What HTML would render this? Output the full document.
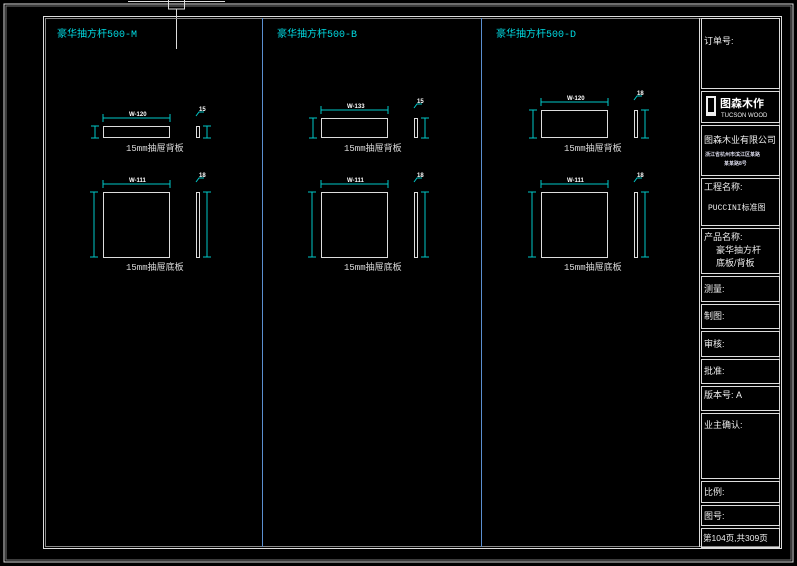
<!DOCTYPE html>
<html><head><meta charset="utf-8"><style>
html,body{margin:0;padding:0;background:#000;}
svg{display:block}
text{font-family:"Liberation Sans","Noto Sans CJK SC",sans-serif;}
text.mono{font-family:"Liberation Mono","Noto Sans CJK SC",monospace;}
</style></head><body>
<svg width="797" height="566" viewBox="0 0 797 566" xmlns="http://www.w3.org/2000/svg">
<rect width="797" height="566" fill="#000"/>
<rect x="4" y="4" width="789" height="558" fill="none" stroke="#ddd" stroke-width="1"/>
<rect x="6" y="6" width="785" height="554" fill="none" stroke="#777" stroke-width="1"/>
<line x1="128" y1="1.5" x2="225" y2="1.5" stroke="#ddd"/>
<rect x="168.5" y="-1" width="16" height="10" fill="none" stroke="#ddd"/>
<line x1="176.5" y1="9" x2="176.5" y2="49" stroke="#ddd"/>
<rect x="43.5" y="16.5" width="738" height="532" fill="none" stroke="#ddd"/>
<rect x="45.5" y="18.5" width="734" height="528" fill="none" stroke="#888"/>
<line x1="262.5" y1="18" x2="262.5" y2="547" stroke="#5b8fd0"/>
<line x1="481.5" y1="18" x2="481.5" y2="547" stroke="#5b8fd0"/>
<line x1="699.5" y1="18" x2="699.5" y2="547" stroke="#ddd"/>
<g fill="#00d8e0" font-size="10">
<text class="mono" x="57" y="37">豪华抽方杆500-M</text>
<text class="mono" x="277" y="37">豪华抽方杆500-B</text>
<text class="mono" x="496" y="37">豪华抽方杆500-D</text>
</g>
<defs>
<g id="bot">
 <g stroke="#00c8c8" fill="none">
  <line x1="103" y1="184" x2="170" y2="184"/>
  <line x1="103" y1="180" x2="103" y2="188"/><line x1="170" y1="180" x2="170" y2="188"/>
  <line x1="94" y1="192" x2="94" y2="257"/><line x1="90" y1="192" x2="98" y2="192"/><line x1="90" y1="257" x2="98" y2="257"/>
  <line x1="207" y1="192" x2="207" y2="257"/><line x1="203" y1="192" x2="211" y2="192"/><line x1="203" y1="257" x2="211" y2="257"/>
  <polyline points="196,182 199,178 204,178"/>
 </g>
 <g stroke="#ddd" fill="none">
  <rect x="103.5" y="192.5" width="66" height="65"/>
  <rect x="196.5" y="192.5" width="3" height="65"/>
 </g>
 <g fill="#fff" font-size="6" font-weight="bold">
  <text x="129" y="182">W-111</text><text x="199" y="177">18</text>
 </g>
 <g fill="#ddd" font-size="9">
  <text class="mono" x="126" y="151">15mm抽屉背板</text>
  <text class="mono" x="126" y="270">15mm抽屉底板</text>
 </g>
</g>
</defs>
<use href="#bot"/>
<use href="#bot" x="218"/>
<use href="#bot" x="438"/>
<g stroke="#00c8c8" fill="none">
  <line x1="103" y1="118" x2="170" y2="118"/><line x1="103" y1="114" x2="103" y2="122"/><line x1="170" y1="114" x2="170" y2="122"/>
  <line x1="95" y1="126" x2="95" y2="138"/><line x1="91" y1="126" x2="99" y2="126"/><line x1="91" y1="138" x2="99" y2="138"/>
  <line x1="207" y1="126" x2="207" y2="138"/><line x1="203" y1="126" x2="211" y2="126"/><line x1="203" y1="138" x2="211" y2="138"/>
  <polyline points="196,116 199,112 204,112"/>

  <line x1="321" y1="110" x2="388" y2="110"/><line x1="321" y1="106" x2="321" y2="114"/><line x1="388" y1="106" x2="388" y2="114"/>
  <line x1="313" y1="118" x2="313" y2="138"/><line x1="309" y1="118" x2="317" y2="118"/><line x1="309" y1="138" x2="317" y2="138"/>
  <line x1="425" y1="118" x2="425" y2="138"/><line x1="421" y1="118" x2="429" y2="118"/><line x1="421" y1="138" x2="429" y2="138"/>
  <polyline points="414,108 417,104 422,104"/>

  <line x1="541" y1="102" x2="608" y2="102"/><line x1="541" y1="98" x2="541" y2="106"/><line x1="608" y1="98" x2="608" y2="106"/>
  <line x1="533" y1="110" x2="533" y2="138"/><line x1="529" y1="110" x2="537" y2="110"/><line x1="529" y1="138" x2="537" y2="138"/>
  <line x1="645" y1="110" x2="645" y2="138"/><line x1="641" y1="110" x2="649" y2="110"/><line x1="641" y1="138" x2="649" y2="138"/>
  <polyline points="634,100 637,96 642,96"/>
</g>
<g stroke="#ddd" fill="none">
  <rect x="103.5" y="126.5" width="66" height="11"/><rect x="196.5" y="126.5" width="3" height="11"/>
  <rect x="321.5" y="118.5" width="66" height="19"/><rect x="414.5" y="118.5" width="3" height="19"/>
  <rect x="541.5" y="110.5" width="66" height="27"/><rect x="634.5" y="110.5" width="3" height="27"/>
</g>
<g fill="#fff" font-size="6" font-weight="bold">
  <text x="129" y="116">W-120</text><text x="199" y="111">15</text>
  <text x="347" y="108">W-133</text><text x="417" y="103">15</text>
  <text x="567" y="100">W-120</text><text x="637" y="95">18</text>
</g>
<g fill="none" stroke="#ddd">
<rect x="701.5" y="18.5" width="78" height="70"/>
<rect x="701.5" y="91.5" width="78" height="31"/>
<rect x="701.5" y="125.5" width="78" height="50"/>
<rect x="701.5" y="178.5" width="78" height="47"/>
<rect x="701.5" y="228.5" width="78" height="45"/>
<rect x="701.5" y="276.5" width="78" height="25"/>
<rect x="701.5" y="304.5" width="78" height="24"/>
<rect x="701.5" y="331.5" width="78" height="25"/>
<rect x="701.5" y="359.5" width="78" height="24"/>
<rect x="701.5" y="386.5" width="78" height="24"/>
<rect x="701.5" y="413.5" width="78" height="65"/>
<rect x="701.5" y="481.5" width="78" height="21"/>
<rect x="701.5" y="505.5" width="78" height="20"/>
<rect x="701.5" y="528.5" width="78" height="19"/>
</g>
<g fill="#eee" font-size="9">
<text x="704" y="44">订单号:</text>
<text x="704" y="143">图森木业有限公司</text>
<text x="704" y="190">工程名称:</text>
<text x="704" y="240">产品名称:</text>
<text x="716" y="253">豪华抽方杆</text>
<text x="716" y="266">底板/背板</text>
<text x="704" y="292">测量:</text>
<text x="704" y="319">制图:</text>
<text x="704" y="347">审核:</text>
<text x="704" y="374">批准:</text>
<text x="704" y="398">版本号: A</text>
<text x="704" y="428">业主确认:</text>
<text x="704" y="495">比例:</text>
<text x="704" y="519">图号:</text>
<text x="703" y="541" font-size="8.5">第104页,共309页</text>
</g>
<text class="mono" x="708" y="210" fill="#eee" font-size="8">PUCCINI标准图</text>
<g fill="#dde" font-size="5" font-weight="bold">
<text x="705" y="156">浙江省杭州市滨江区某路</text>
<text x="724" y="165">某某路8号</text>
</g>
<rect x="706" y="96" width="10" height="20" fill="#eee"/>
<rect x="708" y="98" width="6" height="14" fill="#000"/>
<text x="720" y="107" fill="#fff" font-size="11" font-weight="bold">图森木作</text>
<text x="721" y="117" fill="#eee" font-size="6">TUCSON WOOD</text>
</svg>
</body></html>
